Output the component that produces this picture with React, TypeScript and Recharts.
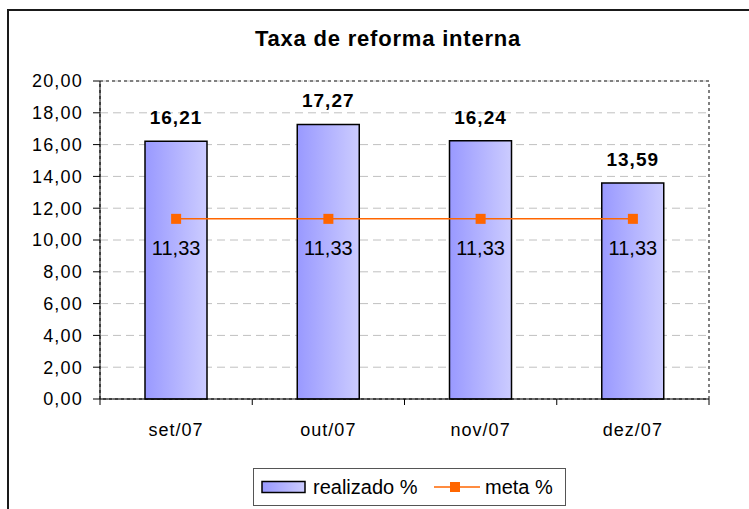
import React from 'react';
import {
  ComposedChart, Bar, Line, XAxis, YAxis, CartesianGrid, LabelList, ReferenceArea,
} from 'recharts';

const categories = ['set/07', 'out/07', 'nov/07', 'dez/07'];
const realizado = [16.21, 17.27, 16.24, 13.59];
const meta = [11.33, 11.33, 11.33, 11.33];
const yTicks = [0, 2, 4, 6, 8, 10, 12, 14, 16, 18, 20];

const data = categories.map((c, i) => ({ cat: c, realizado: realizado[i], meta: meta[i] }));

const fmt = (v: any) => Number(v).toFixed(2).replace('.', ',');
const FONT = '"Liberation Sans", Arial, sans-serif';

const XTick = (props: any) => {
  const { x, y, payload, index } = props;
  const off = payload && payload.offset ? payload.offset : 76;
  return (
    <g>
      <line x1={x - off} x2={x - off} y1={y} y2={y + 6} stroke="#000" strokeWidth={1} />
      {index === categories.length - 1 && (
        <line x1={x + off} x2={x + off} y1={y} y2={y + 6} stroke="#000" strokeWidth={1} />
      )}
      <text x={x} y={y + 37} textAnchor="middle" fontFamily={FONT} fontSize={18} letterSpacing={1} fill="#000">
        {payload.value}
      </text>
    </g>
  );
};

const SquareDot = (props: any) => {
  const { cx, cy } = props;
  if (cx == null || cy == null) return null;
  return <rect x={cx - 5} y={cy - 5} width={10} height={10} fill="#ff6600" />;
};

export default function App() {
  return (
    <div style={{ position: 'absolute', left: 0, top: 0, width: 749, height: 509, background: '#fff', overflow: 'hidden', fontFamily: FONT }}>
      <div style={{ position: 'absolute', left: 7, top: 9, width: 760, height: 520, borderTop: '2px solid #1a1a1a', borderLeft: '2px solid #1a1a1a' }} />
      <div style={{ position: 'absolute', left: 0, width: 776, top: 28, textAlign: 'center', fontSize: 22, lineHeight: '22px', fontWeight: 'bold', letterSpacing: 0.8, color: '#000' }}>
        Taxa de reforma interna
      </div>
      <div style={{ position: 'absolute', left: 0, top: 0 }}>
        <ComposedChart width={749} height={509} data={data} margin={{ top: 81, right: 40, left: 0, bottom: 70 }}>
          <defs>
            <linearGradient id="barGrad" x1="0" y1="0" x2="1" y2="0">
              <stop offset="0%" stopColor="#9999ff" />
              <stop offset="100%" stopColor="#ccccff" />
            </linearGradient>
          </defs>
          <CartesianGrid vertical={false} stroke="#c0c0c0" strokeDasharray="8 5" />
          <ReferenceArea y1={0} y2={20} fill="none" stroke="#808080" strokeDasharray="3 3" strokeWidth={2} ifOverflow="visible" />
          <XAxis
            dataKey="cat"
            height={40}
            tickSize={0}
            tickMargin={0}
            tickLine={false}
            axisLine={{ stroke: '#000', strokeWidth: 1 }}
            tick={<XTick />}
            interval={0}
          />
          <YAxis
            width={100}
            domain={[0, 20]}
            ticks={yTicks}
            interval={0}
            tickFormatter={fmt}
            tickSize={7}
            tickMargin={10}
            tickLine={{ stroke: '#000' }}
            axisLine={{ stroke: '#000', strokeWidth: 1 }}
            tick={{ fontFamily: FONT, fontSize: 18, letterSpacing: 1.2, fill: '#000' }}
          />
          <Bar dataKey="realizado" barSize={62} fill="url(#barGrad)" stroke="#000" strokeWidth={1.5} isAnimationActive={false}>
            <LabelList dataKey="realizado" position="top" offset={17} formatter={fmt}
              style={{ fontFamily: FONT, fontSize: 19, fontWeight: 'bold', letterSpacing: 1, fill: '#000' }} />
          </Bar>
          <Line dataKey="meta" stroke="#ff6600" strokeWidth={1.5} dot={<SquareDot />} activeDot={false} isAnimationActive={false}>
            <LabelList dataKey="meta" position="bottom" offset={22} formatter={fmt}
              style={{ fontFamily: FONT, fontSize: 20, fill: '#000' }} />
          </Line>
        </ComposedChart>
      </div>
      <div style={{ position: 'absolute', left: 253, top: 468, width: 311, height: 36, border: '1px solid #555', background: '#fff' }}>
        <svg width={311} height={36} style={{ position: 'absolute', left: 0, top: 0 }}>
          <defs>
            <linearGradient id="legGrad" x1="0" y1="0" x2="1" y2="0">
              <stop offset="0%" stopColor="#9999ff" />
              <stop offset="100%" stopColor="#ccccff" />
            </linearGradient>
          </defs>
          <rect x={8} y={12.5} width={43} height={11} fill="url(#legGrad)" stroke="#000" strokeWidth={1.5} />
          <text x={59} y={25} fontFamily={FONT} fontSize={20} fill="#000">realizado %</text>
          <line x1={180} x2={226} y1={18} y2={18} stroke="#ff6600" strokeWidth={1.5} />
          <rect x={196} y={13} width={10} height={10} fill="#ff6600" />
          <text x={231} y={25} fontFamily={FONT} fontSize={20} fill="#000">meta %</text>
        </svg>
      </div>
    </div>
  );
}
